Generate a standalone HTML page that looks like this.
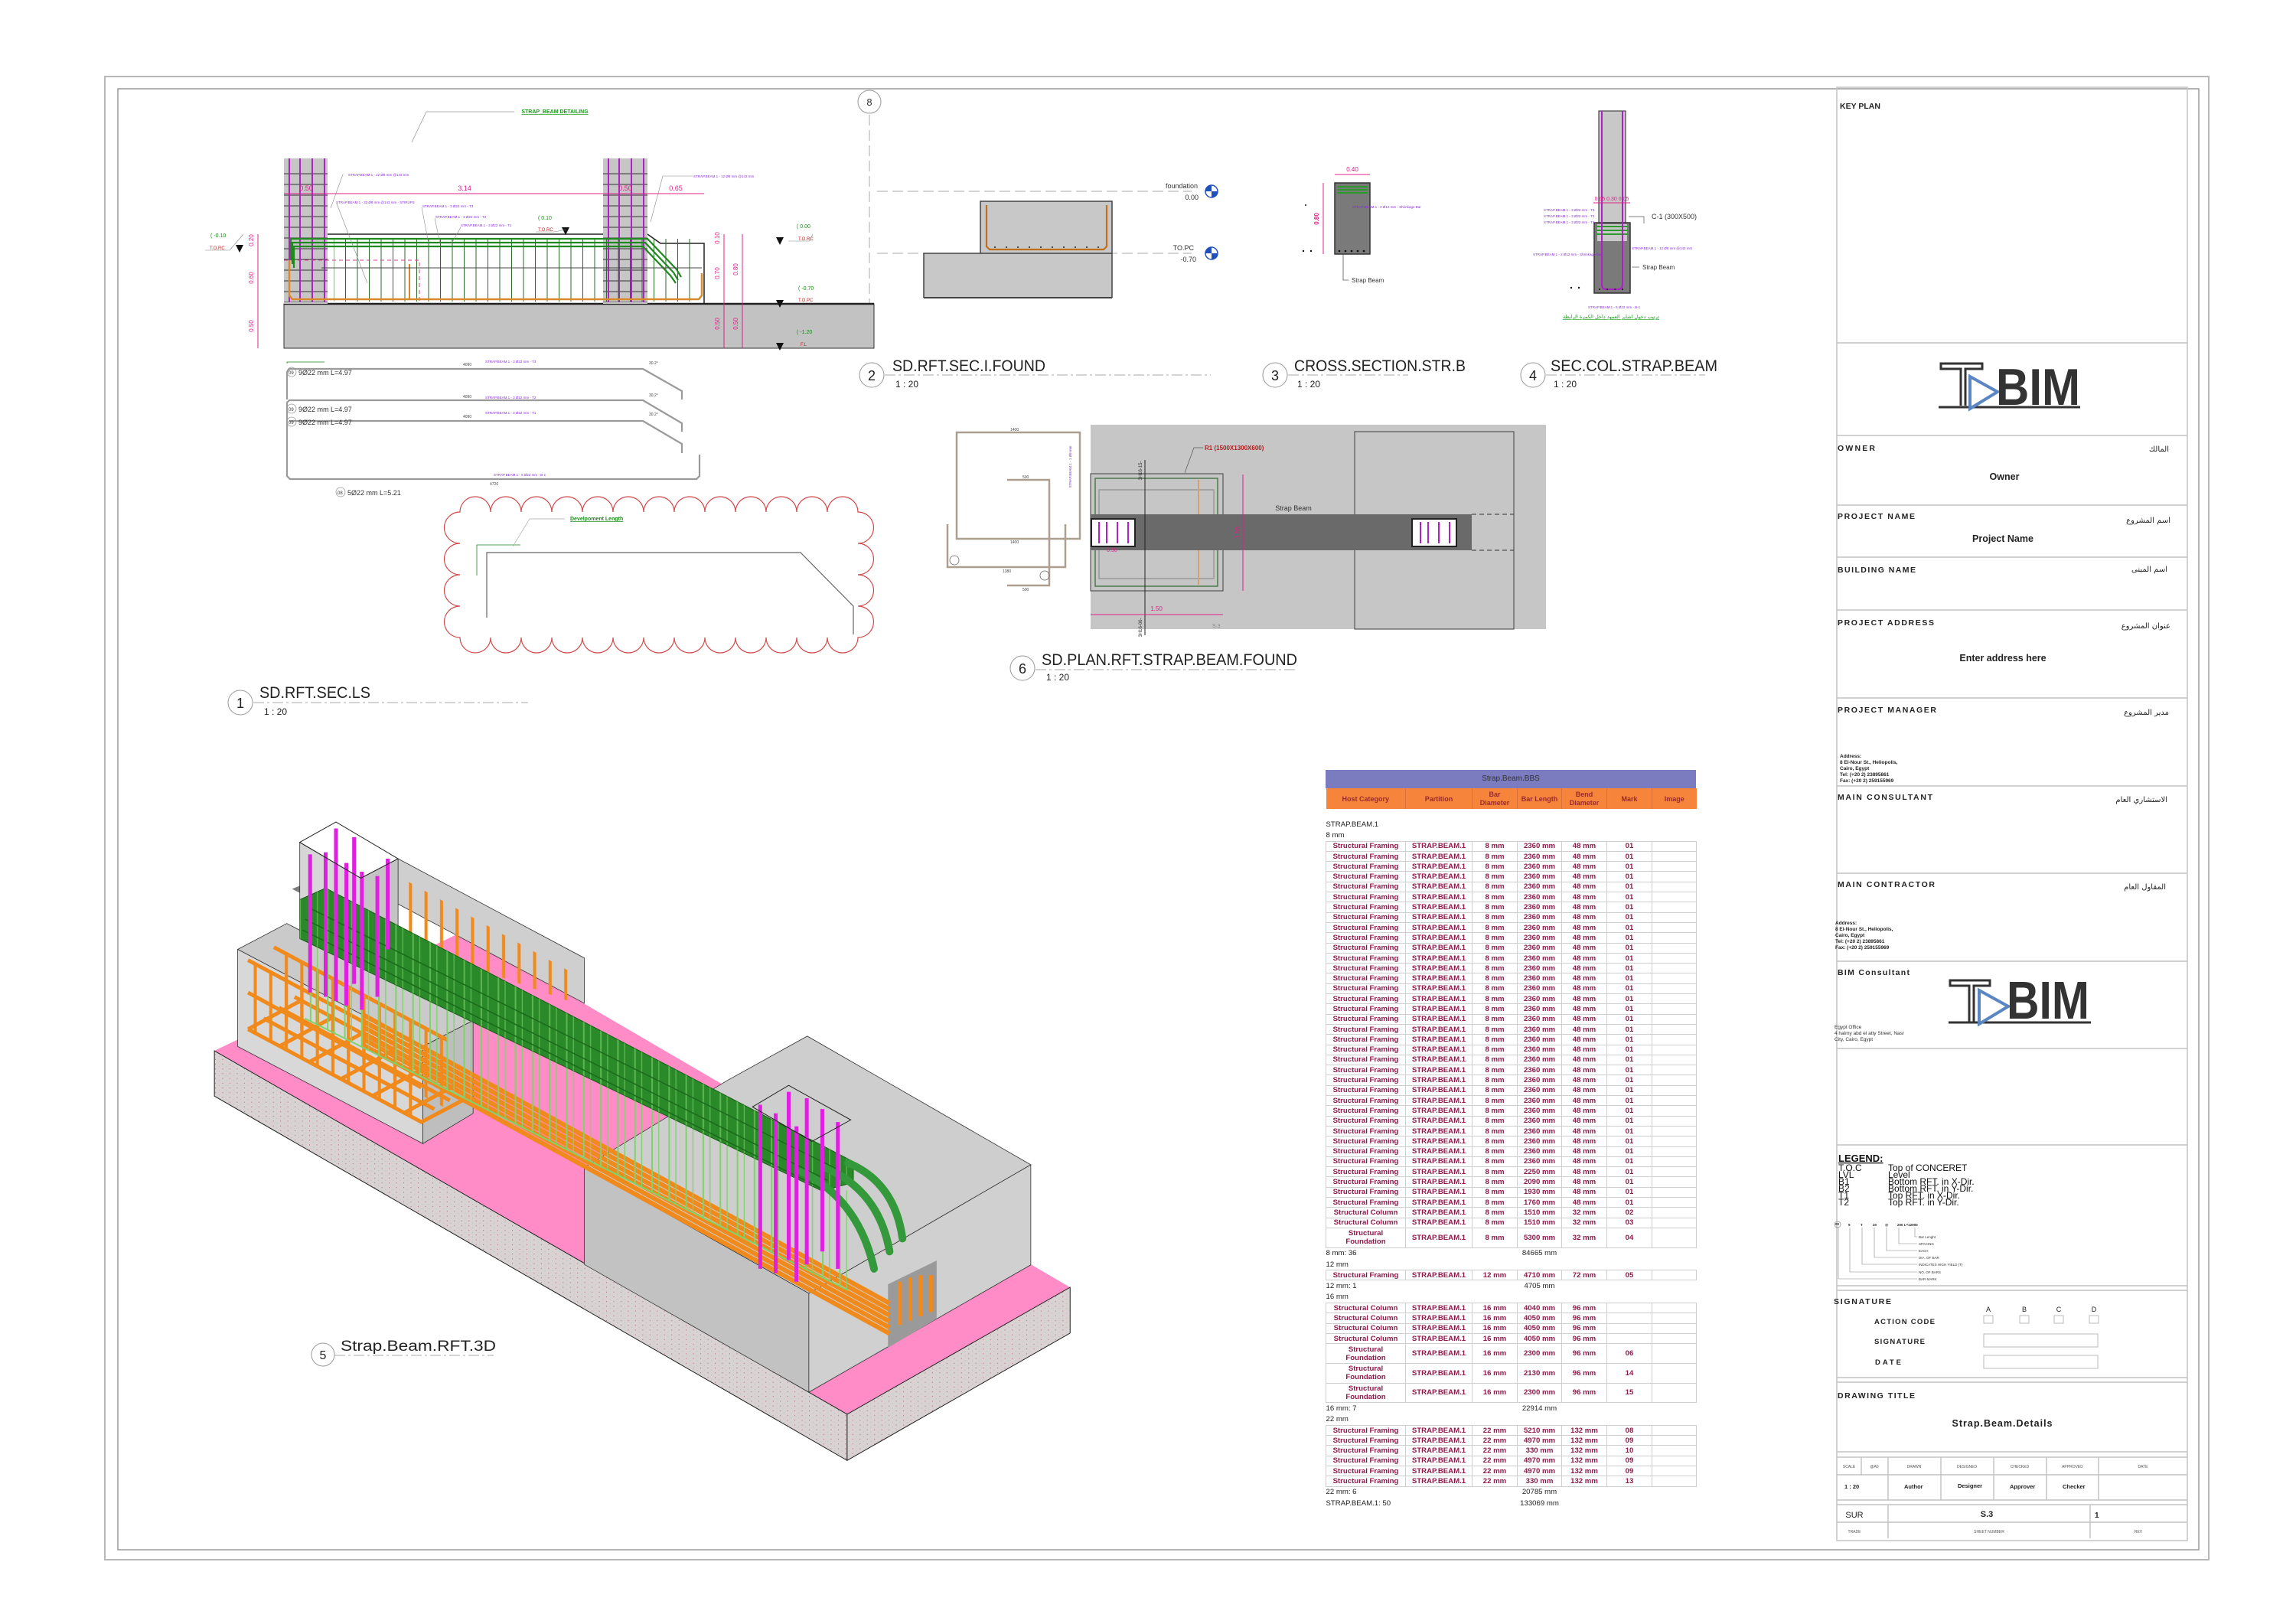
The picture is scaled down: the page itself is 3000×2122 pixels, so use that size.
<!DOCTYPE html>
<html><head><meta charset="utf-8">
<style>
html,body{margin:0;padding:0;background:#fff;}
body{width:3000px;height:2122px;position:relative;overflow:hidden;font-family:"Liberation Sans",sans-serif;}
svg{position:absolute;left:0;top:0;}
.z *{vector-effect:non-scaling-stroke;}
#bbs{position:absolute;left:1732px;top:1006px;width:484px;font-family:"Liberation Sans",sans-serif;}
#bbs table{border-collapse:collapse;table-layout:fixed;width:484px;}
#bbs td{padding:0;text-align:center;overflow:hidden;white-space:nowrap;}
#bbs tr.r td{height:12.3px;border:1px solid #cfcfcf;font-weight:bold;font-size:9.6px;color:#8c1a4a;line-height:11px;}
#bbs tr.d td{height:24.7px;border:1px solid #cfcfcf;font-weight:bold;font-size:9.6px;color:#8c1a4a;line-height:11px;}
#bbs tr.s td{height:14.3px;font-size:9.6px;color:#222;text-align:left;line-height:13px;}
#bbs tr.s td.t{text-align:center;}
</style></head>
<body>
<svg width="3000" height="2122" viewBox="0 0 3000 2122" xmlns="http://www.w3.org/2000/svg" font-family="Liberation Sans, sans-serif">
<defs>
<pattern id="stir" patternUnits="userSpaceOnUse" width="15.5" height="10"><line x1="2" y1="0" x2="2" y2="10" stroke="#2d6a2d" stroke-width="1"/></pattern>
<pattern id="ties" patternUnits="userSpaceOnUse" width="10" height="14"><line x1="0" y1="3" x2="10" y2="3" stroke="#333" stroke-width="1"/></pattern>
<pattern id="st3" patternUnits="userSpaceOnUse" width="33" height="40"><line x1="3" y1="0" x2="3" y2="40" stroke="#7fd36a" stroke-width="3"/><line x1="16" y1="0" x2="16" y2="40" stroke="#7fd36a" stroke-width="2"/></pattern>
<pattern id="or3" patternUnits="userSpaceOnUse" width="30" height="40"><line x1="4" y1="0" x2="4" y2="40" stroke="#f08a1c" stroke-width="6"/></pattern>
<pattern id="spk" patternUnits="userSpaceOnUse" width="14" height="11"><rect width="14" height="11" fill="#d8d2d3"/><circle cx="3" cy="3" r="0.8" fill="#b04060"/><circle cx="10" cy="8" r="0.7" fill="#9a9a9a"/></pattern>
</defs>

<rect x="137" y="100" width="2749" height="1938" fill="none" stroke="#b8b8b8" stroke-width="2"/>
<rect x="154" y="116" width="2719" height="1909" fill="none" stroke="#9a9a9a" stroke-width="1.5"/>
<rect x="2400" y="114" width="458" height="1899" fill="none" stroke="#c4c4c4" stroke-width="1.5"/>

<!-- SECTION 1 -->
<text x="725" y="148" font-size="7" fill="#1a9a1a" font-weight="bold" text-anchor="middle" text-decoration="underline">STRAP_BEAM DETAILING</text>
<polyline points="538,186 557,146 672,146" fill="none" stroke="#999" stroke-width="0.8"/>
<circle cx="1136" cy="133" r="15" fill="#fff" stroke="#999" stroke-width="1"/>
<text x="1136" y="138" font-size="13" text-anchor="middle" fill="#333">8</text>
<line x1="1136" y1="150" x2="1136" y2="400" stroke="#aaa" stroke-width="1" stroke-dasharray="14,6"/>

<rect x="371" y="397" width="771" height="58" fill="#c2c2c2" stroke="#333" stroke-width="1"/>
<line x1="371" y1="397" x2="1142" y2="397" stroke="#222" stroke-width="2.5"/>
<polyline points="428,306 788,306" fill="none" stroke="#222" stroke-width="1.5"/>
<polyline points="846,306 863,318 920,318 920,397" fill="none" stroke="#222" stroke-width="1.5"/>
<rect x="371" y="207" width="57" height="190" fill="#c6c6c6"/>
<rect x="788" y="207" width="58" height="190" fill="#c6c6c6"/>
<rect x="371" y="215" width="57" height="180" fill="url(#ties)"/>
<rect x="788" y="215" width="58" height="180" fill="url(#ties)"/>
<g stroke="#b020c8" stroke-width="2">
<line x1="378" y1="207" x2="378" y2="395"/><line x1="392" y1="207" x2="392" y2="395"/><line x1="408" y1="207" x2="408" y2="395"/><line x1="424" y1="207" x2="424" y2="395"/>
<line x1="795" y1="207" x2="795" y2="395"/><line x1="809" y1="207" x2="809" y2="395"/><line x1="825" y1="207" x2="825" y2="395"/><line x1="841" y1="207" x2="841" y2="395"/>
</g>
<rect x="436" y="312" width="472" height="82" fill="url(#stir)"/>
<polyline points="371,340 548,340 548,397" fill="none" stroke="#d04090" stroke-width="1" stroke-dasharray="5,4"/>
<g fill="none" stroke="#1f8a1f" stroke-width="2.2">
<polyline points="380,340 380,312 846,312 884,352 890,362"/>
<polyline points="382,345 382,317 843,317 880,356 886,366"/>
<polyline points="384,350 384,322 840,322 876,360 883,370"/>
</g>
<polyline points="378,340 378,386 382,391 913,391 917,386 917,357" fill="none" stroke="#d9892a" stroke-width="2.5"/>
<line x1="535" y1="345" x2="535" y2="390" stroke="#d9892a" stroke-width="2"/>
<line x1="420" y1="350" x2="917" y2="350" stroke="#444" stroke-width="1"/>
<line x1="371" y1="253" x2="920" y2="253" stroke="#e0208a" stroke-width="1"/>
<text x="400" y="249" font-size="9" fill="#e0208a" text-anchor="middle">0.50</text>
<text x="607" y="249" font-size="9" fill="#e0208a" text-anchor="middle">3.14</text>
<text x="817" y="249" font-size="9" fill="#e0208a" text-anchor="middle">0.50</text>
<text x="883" y="249" font-size="9" fill="#e0208a" text-anchor="middle">0.65</text>
<line x1="337" y1="306" x2="337" y2="455" stroke="#e0208a" stroke-width="1"/>
<line x1="946" y1="306" x2="946" y2="455" stroke="#e0208a" stroke-width="1"/>
<line x1="970" y1="306" x2="970" y2="455" stroke="#e0208a" stroke-width="1"/>
<g font-size="8" fill="#e0208a" text-anchor="middle">
<text transform="translate(331,314) rotate(-90)">0.20</text>
<text transform="translate(331,363) rotate(-90)">0.60</text>
<text transform="translate(331,426) rotate(-90)">0.50</text>
<text transform="translate(940,311) rotate(-90)">0.10</text>
<text transform="translate(940,357) rotate(-90)">0.70</text>
<text transform="translate(964,352) rotate(-90)">0.80</text>
<text transform="translate(940,423) rotate(-90)">0.50</text>
<text transform="translate(964,423) rotate(-90)">0.50</text>
</g>
<g font-size="7" fill="#1a8a1a">
<text x="275" y="310">( -0.10</text><text x="703" y="287">( 0.10</text><text x="1041" y="298">( 0.00</text><text x="1043" y="379">( -0.70</text><text x="1041" y="436">( -1.20</text>
</g>
<g font-size="6" fill="#d02020">
<text x="274" y="326">T.O.RC</text><text x="703" y="302">T.O.RC</text><text x="1043" y="314">T.O.RC</text><text x="1043" y="394">T.O.PC</text><text x="1046" y="452">F.L</text>
</g>
<g fill="#111">
<polygon points="308,320 318,320 313,330"/><polygon points="734,297 744,297 739,307"/><polygon points="1014,310 1024,310 1019,320"/><polygon points="1014,392 1024,392 1019,402"/><polygon points="1014,448 1024,448 1019,458"/>
</g>
<g stroke="#888" stroke-width="0.6" fill="none">
<polyline points="268,327 300,327 318,306"/><polyline points="700,303 724,303 740,300"/><polyline points="1030,315 1058,315 1062,306"/>
<polyline points="432,272 448,228"/><polyline points="850,290 866,230 905,230"/><polyline points="480,370 440,266"/><polyline points="560,318 551,271"/><polyline points="575,318 568,285"/><polyline points="590,318 602,297"/>
</g>
<g font-size="4.5" fill="#8a2be2">
<text x="455" y="230">STRAP.BEAM.1 - 12 Ø8 mm @143 mm</text>
<text x="906" y="232">STRAP.BEAM.1 - 12 Ø8 mm @143 mm</text>
<text x="439" y="266">STRAP.BEAM.1 - 33 Ø8 mm @143 mm - STIRUPS</text>
<text x="552" y="271">STRAP.BEAM.1 - 3 Ø22 mm - T3</text>
<text x="569" y="285">STRAP.BEAM.1 - 3 Ø22 mm - T2</text>
<text x="602" y="296">STRAP.BEAM.1 - 3 Ø22 mm - T1</text>
</g>
<g fill="none" stroke="#9a9a9a" stroke-width="2.2">
<polyline points="375,522 375,486 378,482 840,482 891,511 891,522"/>
<polyline points="375,594 375,526 378,523 840,523 891,553 891,564"/>
<polyline points="378,550 840,550 891,580 891,592"/>
<polyline points="375,594 375,622 379,626 910,626 914,622 914,594"/>
</g>
<polyline points="375,475 375,473 424,473" fill="none" stroke="#1a8a1a" stroke-width="0.8"/>
<g font-size="9" fill="#333">
<circle cx="381" cy="486" r="6" fill="none" stroke="#999" stroke-width="0.8"/><text x="377" y="489" font-size="6">09</text><text x="390" y="490">9Ø22 mm L=4.97</text>
<circle cx="381" cy="534" r="6" fill="none" stroke="#999" stroke-width="0.8"/><text x="377" y="537" font-size="6">09</text><text x="390" y="538">9Ø22 mm L=4.97</text>
<circle cx="381" cy="551" r="6" fill="none" stroke="#999" stroke-width="0.8"/><text x="377" y="554" font-size="6">09</text><text x="390" y="555">9Ø22 mm L=4.97</text>
<circle cx="445" cy="643" r="6" fill="none" stroke="#999" stroke-width="0.8"/><text x="441" y="646" font-size="6">08</text><text x="454" y="647">5Ø22 mm L=5.21</text>
</g>
<g font-size="4.5" fill="#8a2be2"><text x="634" y="474">STRAP.BEAM.1 - 3 Ø22 mm - T3</text><text x="634" y="521">STRAP.BEAM.1 - 3 Ø22 mm - T2</text><text x="634" y="541">STRAP.BEAM.1 - 3 Ø22 mm - T1</text><text x="645" y="622">STRAP.BEAM.1 - 5 Ø22 mm - B-1</text></g>
<g font-size="5" fill="#444"><text x="605" y="478">4090</text><text x="605" y="520">4090</text><text x="605" y="546">4090</text><text x="640" y="634">4720</text><text x="848" y="476">30.2°</text><text x="848" y="518">30.2°</text><text x="848" y="543">30.2°</text></g>

<path d="M601 669 a20 20 0 0 1 40 0 a20 20 0 0 1 40 0 a20 20 0 0 1 40 0 a20 20 0 0 1 40 0 a20 20 0 0 1 40 0 a20 20 0 0 1 40 0 a20 20 0 0 1 40 0 a20 20 0 0 1 40 0 a20 20 0 0 1 40 0 a20 20 0 0 1 40 0 a20 20 0 0 1 40 0 a20 20 0 0 1 40 0 a20 20 0 0 1 40 0 a20 20 0 0 1 0 41 a20 20 0 0 1 0 41 a20 20 0 0 1 0 41 a20 20 0 0 1 0 41 a20 20 0 0 1 -40 0 a20 20 0 0 1 -40 0 a20 20 0 0 1 -40 0 a20 20 0 0 1 -40 0 a20 20 0 0 1 -40 0 a20 20 0 0 1 -40 0 a20 20 0 0 1 -40 0 a20 20 0 0 1 -40 0 a20 20 0 0 1 -40 0 a20 20 0 0 1 -40 0 a20 20 0 0 1 -40 0 a20 20 0 0 1 -40 0 a20 20 0 0 1 -40 0 a20 20 0 0 1 0 -41 a20 20 0 0 1 0 -41 a20 20 0 0 1 0 -41 a20 20 0 0 1 0 -41 Z" fill="none" stroke="#d04848" stroke-width="1.2"/>
<polyline points="636,807 636,722 1046,722 1115,792 1115,829" fill="none" stroke="#666" stroke-width="1.2"/>
<polyline points="623,752 623,712 680,712" fill="none" stroke="#1a8a1a" stroke-width="0.8"/>
<polyline points="670,714 692,678 738,678" fill="none" stroke="#aaa" stroke-width="0.7"/>
<text x="745" y="680" font-size="7" fill="#1a8a1a" font-weight="bold" text-decoration="underline">Develpoment Length</text>

<circle cx="314" cy="918" r="16" fill="#fff" stroke="#999" stroke-width="1"/>
<text x="314" y="925" font-size="18" text-anchor="middle" fill="#222">1</text>
<text x="339" y="912" font-size="21" fill="#222" textLength="145" lengthAdjust="spacingAndGlyphs">SD.RFT.SEC.LS</text>
<text x="345" y="934" font-size="12" fill="#222">1 : 20</text>
<line x1="331" y1="918" x2="690" y2="918" stroke="#aaa" stroke-width="1" stroke-dasharray="14,4,3,4"/>

<!-- SECTION 2 -->
<line x1="1146" y1="250" x2="1557" y2="250" stroke="#aaa" stroke-width="1" stroke-dasharray="14,6"/>
<line x1="1146" y1="331" x2="1557" y2="331" stroke="#aaa" stroke-width="1" stroke-dasharray="14,6"/>
<rect x="1281" y="263" width="172" height="68" fill="#c8c8c8"/>
<rect x="1207" y="331" width="246" height="58" fill="#c8c8c8"/>
<polyline points="1281,331 1281,263 1453,263 1453,389" fill="none" stroke="#444" stroke-width="1.5"/>
<polyline points="1207,389 1207,331 1453,331" fill="none" stroke="#444" stroke-width="1.5"/>
<line x1="1207" y1="389" x2="1453" y2="389" stroke="#444" stroke-width="2"/>
<polyline points="1289,268 1289,322 1293,326 1442,326 1446,322 1446,268" fill="none" stroke="#c0701c" stroke-width="2.2"/>
<g fill="#222"><circle cx="1300" cy="323" r="1"/><circle cx="1315" cy="323" r="1"/><circle cx="1330" cy="323" r="1"/><circle cx="1345" cy="323" r="1"/><circle cx="1360" cy="323" r="1"/><circle cx="1375" cy="323" r="1"/><circle cx="1390" cy="323" r="1"/><circle cx="1405" cy="323" r="1"/><circle cx="1420" cy="323" r="1"/><circle cx="1435" cy="323" r="1"/></g>
<g font-size="9" fill="#333" text-anchor="end"><text x="1565" y="246">foundation</text><text x="1566" y="261">0.00</text><text x="1560" y="327">TO.PC</text><text x="1563" y="342">-0.70</text></g>
<g><circle cx="1583" cy="250" r="8" fill="#fff" stroke="#1f50c0" stroke-width="1.5"/><path d="M1583 250 L1575 250 A8 8 0 0 1 1583 242 Z M1583 250 L1591 250 A8 8 0 0 1 1583 258 Z" fill="#1f50c0"/>
<circle cx="1583" cy="331" r="8" fill="#fff" stroke="#1f50c0" stroke-width="1.5"/><path d="M1583 331 L1575 331 A8 8 0 0 1 1583 323 Z M1583 331 L1591 331 A8 8 0 0 1 1583 339 Z" fill="#1f50c0"/></g>
<circle cx="1139" cy="490" r="16" fill="#fff" stroke="#999" stroke-width="1"/>
<text x="1139" y="497" font-size="18" text-anchor="middle" fill="#222">2</text>
<text x="1166" y="485" font-size="21" fill="#222" textLength="200" lengthAdjust="spacingAndGlyphs">SD.RFT.SEC.I.FOUND</text>
<text x="1170" y="506" font-size="12" fill="#222">1 : 20</text>
<line x1="1156" y1="490" x2="1582" y2="490" stroke="#aaa" stroke-width="1" stroke-dasharray="14,4,3,4"/>

<!-- SECTION 3 -->
<rect x="1744" y="239" width="46" height="93" fill="#7a7a7a" stroke="#333" stroke-width="1.5"/>
<g stroke="#2a9a2a" stroke-width="2"><line x1="1747" y1="244" x2="1787" y2="244"/><line x1="1747" y1="248" x2="1787" y2="248"/><line x1="1747" y1="252" x2="1787" y2="252"/></g>
<g fill="#111"><circle cx="1750" cy="328" r="1.3"/><circle cx="1758" cy="328" r="1.3"/><circle cx="1766" cy="328" r="1.3"/><circle cx="1774" cy="328" r="1.3"/><circle cx="1782" cy="328" r="1.3"/><circle cx="1703" cy="328" r="1.2"/><circle cx="1713" cy="328" r="1.2"/><circle cx="1706" cy="268" r="1"/></g>
<line x1="1744" y1="228" x2="1790" y2="228" stroke="#e0208a" stroke-width="1"/>
<text x="1767" y="224" font-size="8" fill="#e0208a" text-anchor="middle">0.40</text>
<line x1="1729" y1="239" x2="1729" y2="332" stroke="#e0208a" stroke-width="1"/>
<text transform="translate(1723,286) rotate(-90)" font-size="8" fill="#e0208a" text-anchor="middle" font-weight="bold">0.80</text>
<text x="1767" y="272" font-size="4.5" fill="#8a2be2">STRAP.BEAM.1 - 2 Ø12 mm - Shrinkage Bar</text>
<polyline points="1755,332 1755,366 1762,366" fill="none" stroke="#555" stroke-width="0.8"/>
<text x="1766" y="369" font-size="8" fill="#333">Strap Beam</text>
<circle cx="1666" cy="490" r="16" fill="#fff" stroke="#999" stroke-width="1"/>
<text x="1666" y="497" font-size="18" text-anchor="middle" fill="#222">3</text>
<text x="1691" y="485" font-size="21" fill="#222" textLength="224" lengthAdjust="spacingAndGlyphs">CROSS.SECTION.STR.B</text>
<text x="1695" y="506" font-size="12" fill="#222">1 : 20</text>
<line x1="1683" y1="490" x2="1840" y2="490" stroke="#aaa" stroke-width="1" stroke-dasharray="14,4,3,4"/>

<!-- SECTION 4 -->
<rect x="2089" y="145" width="35" height="146" fill="#c8c8c8" stroke="#444" stroke-width="1.2"/>
<rect x="2083" y="291" width="47" height="92" fill="#7a7a7a" stroke="#333" stroke-width="1.5"/>
<rect x="2087" y="293" width="39" height="22" fill="#c8c8c8"/>
<g stroke="#2a9a2a" stroke-width="2"><line x1="2086" y1="296" x2="2127" y2="296"/><line x1="2086" y1="301" x2="2127" y2="301"/><line x1="2086" y1="306" x2="2127" y2="306"/></g>
<path d="M2093 145 V372 Q2093 378 2099 378 H2114 Q2120 378 2120 372 V145" fill="none" stroke="#b020c8" stroke-width="2"/>
<line x1="2082" y1="265" x2="2130" y2="265" stroke="#e0208a" stroke-width="1"/>
<text x="2106" y="262" font-size="7" fill="#e0208a" text-anchor="middle">0.05 0.30 0.05</text>
<polyline points="2128,283 2148,283 2148,292" fill="none" stroke="#555" stroke-width="0.7"/>
<text x="2158" y="286" font-size="9" fill="#333">C-1 (300X500)</text>
<line x1="2132" y1="349" x2="2142" y2="349" stroke="#555" stroke-width="0.7"/>
<text x="2146" y="352" font-size="8" fill="#333">Strap Beam</text>
<g font-size="4.5" fill="#8a2be2">
<text x="2017" y="276">STRAP.BEAM.1 - 3 Ø22 mm - T3</text><text x="2017" y="284">STRAP.BEAM.1 - 3 Ø22 mm - T2</text><text x="2017" y="292">STRAP.BEAM.1 - 3 Ø22 mm - T1</text>
<text x="2132" y="326">STRAP.BEAM.1 - 12 Ø8 mm @143 mm</text><text x="2003" y="334">STRAP.BEAM.1 - 2 Ø12 mm - Shrinkage Bar</text><text x="2075" y="403">STRAP.BEAM.1 - 5 Ø22 mm - B-1</text>
</g>
<g fill="#111"><circle cx="2053" cy="376" r="1.2"/><circle cx="2063" cy="376" r="1.2"/><circle cx="2090" cy="378" r="1"/><circle cx="2100" cy="378" r="1"/><circle cx="2110" cy="378" r="1"/><circle cx="2120" cy="378" r="1"/></g>
<text x="2105" y="416" font-size="6.5" fill="#1a9a1a" font-family="DejaVu Sans, sans-serif" text-decoration="underline" text-anchor="middle">ترتيب دخول اشاير العمود داخل الكمرة الرابطة</text>
<circle cx="2003" cy="490" r="16" fill="#fff" stroke="#999" stroke-width="1"/>
<text x="2003" y="497" font-size="18" text-anchor="middle" fill="#222">4</text>
<text x="2026" y="485" font-size="21" fill="#222" textLength="218" lengthAdjust="spacingAndGlyphs">SEC.COL.STRAP.BEAM</text>
<text x="2030" y="506" font-size="12" fill="#222">1 : 20</text>
<line x1="2020" y1="490" x2="2228" y2="490" stroke="#aaa" stroke-width="1" stroke-dasharray="14,4,3,4"/>

<!-- PLAN 6 -->
<rect x="1425" y="555" width="595" height="267" fill="#c6c6c6"/>
<rect x="1770" y="564" width="208" height="258" fill="none" stroke="#555" stroke-width="1.2"/>
<rect x="1425" y="619" width="173" height="153" fill="#c6c6c6" stroke="#555" stroke-width="1.2"/>
<rect x="1431" y="625" width="160" height="141" fill="none" stroke="#4a7a4a" stroke-width="1.5"/>
<rect x="1436" y="640" width="150" height="116" fill="none" stroke="#999" stroke-width="1.5"/>
<line x1="1566" y1="627" x2="1566" y2="764" stroke="#d8a070" stroke-width="2"/>
<rect x="1425" y="672" width="498" height="47" fill="#6a6a6a"/>
<line x1="1923" y1="672" x2="1978" y2="672" stroke="#333" stroke-dasharray="6,4"/>
<line x1="1923" y1="719" x2="1978" y2="719" stroke="#333" stroke-dasharray="6,4"/>
<rect x="1426" y="678" width="57" height="36" fill="#fff" stroke="#222" stroke-width="2"/>
<rect x="1845" y="678" width="58" height="36" fill="#fff" stroke="#222" stroke-width="2"/>
<g stroke="#b020c8" stroke-width="2"><line x1="1436" y1="682" x2="1436" y2="710"/><line x1="1446" y1="682" x2="1446" y2="710"/><line x1="1460" y1="682" x2="1460" y2="710"/><line x1="1474" y1="682" x2="1474" y2="710"/><line x1="1856" y1="682" x2="1856" y2="710"/><line x1="1866" y1="682" x2="1866" y2="710"/><line x1="1880" y1="682" x2="1880" y2="710"/><line x1="1894" y1="682" x2="1894" y2="710"/></g>
<line x1="1496" y1="601" x2="1496" y2="830" stroke="#222" stroke-width="1"/>
<text transform="translate(1492,615) rotate(-90)" font-size="6" fill="#333" text-anchor="middle">3H16-15-</text>
<text transform="translate(1492,820) rotate(-90)" font-size="6" fill="#333" text-anchor="middle">3H16-06-</text>
<line x1="1624" y1="620" x2="1624" y2="772" stroke="#e0208a" stroke-width="1"/>
<text transform="translate(1620,696) rotate(-90)" font-size="8" fill="#e0208a" text-anchor="middle">1.30</text>
<line x1="1425" y1="803" x2="1598" y2="803" stroke="#e0208a" stroke-width="1"/>
<text x="1511" y="798" font-size="8" fill="#e0208a" text-anchor="middle">1.50</text>
<text x="1453" y="721" font-size="7" fill="#e0208a" text-anchor="middle">0.50</text>
<text x="1690" y="667" font-size="9" fill="#333" text-anchor="middle">Strap Beam</text>
<polyline points="1548,618 1560,585 1572,585" fill="none" stroke="#555" stroke-width="0.7"/>
<text x="1574" y="588" font-size="8" fill="#b02020" font-weight="bold">R1 (1500X1300X600)</text>
<text x="1584" y="820" font-size="7" fill="#888">S.3</text>
<g fill="none" stroke="#ad9f90" stroke-width="2.5">
<rect x="1250" y="565" width="161" height="139"/>
<polyline points="1316,627 1371,627 1371,765 1316,765"/>
<polyline points="1238,685 1238,741 1392,741 1392,685"/>
</g>
<circle cx="1247" cy="732" r="6" fill="none" stroke="#666" stroke-width="0.8"/>
<circle cx="1365" cy="752" r="6" fill="none" stroke="#666" stroke-width="0.8"/>
<g font-size="5" fill="#444"><text x="1320" y="563">1400</text><text x="1320" y="710">1400</text><text x="1310" y="748">1380</text><text x="1336" y="625">500</text><text x="1336" y="772">500</text></g>
<text transform="translate(1400,610) rotate(-90)" font-size="4.5" fill="#8a2be2" text-anchor="middle">STRAP.BEAM.1 - 1 Ø8 mm</text>
<circle cx="1336" cy="873" r="16" fill="#fff" stroke="#999" stroke-width="1"/>
<text x="1336" y="880" font-size="18" text-anchor="middle" fill="#222">6</text>
<text x="1361" y="869" font-size="21" fill="#222" textLength="334" lengthAdjust="spacingAndGlyphs">SD.PLAN.RFT.STRAP.BEAM.FOUND</text>
<text x="1367" y="889" font-size="12" fill="#222">1 : 20</text>
<line x1="1353" y1="875" x2="1695" y2="875" stroke="#aaa" stroke-width="1" stroke-dasharray="14,4,3,4"/>

<!-- 3D VIEW -->
<g class="z" transform="translate(270,1060) scale(0.676,0.564)">
<polygon points="15,555 1238,1397 1669,1103 493,280" fill="#ff8cc6"/>
<polygon points="15,555 1238,1397 1238,1504 15,660" fill="url(#spk)" stroke="#222" stroke-width="1"/>
<polygon points="1238,1397 1669,1103 1669,1209 1238,1504" fill="url(#spk)" stroke="#222" stroke-width="1"/>
<polygon points="370,110 730,340 730,445 370,215" fill="#cfcfcf" stroke="#333" stroke-width="0.8"/>
<polygon points="165,180 190,168 1250,830 1230,845" fill="#7d7d7d"/>
<polygon points="180,72 298,155 298,330 180,250" fill="#d6d6d6" stroke="#333" stroke-width="0.8"/>
<polygon points="298,155 370,110 370,290 298,330" fill="#c4c4c4" stroke="#333" stroke-width="0.8"/>
<polygon points="60,320 155,260 515,485 418,545" fill="#cacaca" stroke="#333" stroke-width="0.8"/>
<polygon points="60,320 418,545 418,770 60,545" fill="#d8d8d8" stroke="#333" stroke-width="0.8"/>
<polygon points="418,545 515,485 515,700 418,770" fill="#bebebe" stroke="#333" stroke-width="0.8"/>
<!-- right footing -->
<polygon points="730,825 1006,624 1161,521 1593,819 1164,1117" fill="#cecece" stroke="#333" stroke-width="0.8"/>
<polygon points="730,825 1164,1117 1164,1346 730,1050" fill="#c2c2c2" stroke="#333" stroke-width="0.8"/>
<polygon points="1164,1117 1593,819 1593,1051 1164,1346" fill="#d0d0d0" stroke="#333" stroke-width="0.8"/>
<polygon points="1317,1096 1411,1041 1411,1176 1317,1243" fill="#9a9a9a"/>
<!-- orange left cage -->
<polygon points="80,345 415,560 415,720 80,505" fill="url(#or3)"/>
<polygon points="130,315 465,530 465,690 130,475" fill="url(#or3)"/>
<polygon points="370,150 700,370 700,440 370,300" fill="url(#or3)"/>
<g fill="none" stroke="#f08a1c" stroke-width="5">
<polyline points="80,505 415,720 510,660"/><polyline points="110,480 440,690"/><polyline points="140,455 470,670"/><polyline points="170,430 500,645"/>
<polyline points="80,345 415,560"/><polyline points="80,420 415,640"/><polyline points="130,315 465,530"/>
<line x1="80" y1="505" x2="180" y2="440"/><line x1="140" y1="545" x2="240" y2="480"/><line x1="200" y1="580" x2="300" y2="515"/><line x1="260" y1="620" x2="360" y2="555"/><line x1="320" y1="660" x2="420" y2="595"/><line x1="380" y1="700" x2="480" y2="635"/>
</g>
<g fill="none" stroke="#f08a1c" stroke-width="6">
<line x1="300" y1="470" x2="1320" y2="1140"/><line x1="300" y1="484" x2="1320" y2="1154"/><line x1="300" y1="498" x2="1320" y2="1168"/><line x1="300" y1="512" x2="1320" y2="1182"/><line x1="300" y1="526" x2="1320" y2="1196"/><line x1="300" y1="540" x2="1320" y2="1210"/>
</g>
<g fill="none" stroke="#f08a1c" stroke-width="5"><path d="M1340 1190 V1090"/><path d="M1360 1180 V1080"/><path d="M1380 1170 V1075"/><path d="M1400 1160 V1075"/></g>
<polygon points="190,250 1240,880 1240,1110 190,480" fill="url(#st3)"/>
<line x1="190" y1="480" x2="1240" y2="1110" stroke="#7fd36a" stroke-width="2"/>
<polygon points="180,205 230,178 1250,812 1250,860 1190,880 180,295" fill="#2a8a2a" stroke="#165c16" stroke-width="1"/>
<polygon points="180,205 230,178 1250,812 1250,860 1190,880 180,295" fill="url(#st3)" opacity="0.6"/>
<g fill="none" stroke="#33993a" stroke-width="10" stroke-linecap="round">
<path d="M1150 835 Q1260 900 1290 1060"/><path d="M1195 825 Q1300 880 1320 1020"/><path d="M1240 815 Q1330 860 1345 990"/>
</g>
<g stroke="#1a6a1a" stroke-width="1.5"><line x1="200" y1="225" x2="1220" y2="830"/><line x1="190" y1="250" x2="1200" y2="855"/><line x1="185" y1="275" x2="1190" y2="875"/></g>
<g stroke="#e020e0" stroke-width="5">
<line x1="200" y1="100" x2="200" y2="420"/><line x1="230" y1="95" x2="230" y2="430"/><line x1="250" y1="40" x2="250" y2="440"/><line x1="270" y1="120" x2="270" y2="450"/><line x1="285" y1="60" x2="285" y2="400"/><line x1="300" y1="140" x2="300" y2="460"/><line x1="330" y1="150" x2="330" y2="430"/><line x1="350" y1="110" x2="350" y2="320"/>
<line x1="1070" y1="680" x2="1070" y2="1060"/><line x1="1100" y1="700" x2="1100" y2="1070"/><line x1="1125" y1="650" x2="1125" y2="1040"/><line x1="1140" y1="730" x2="1140" y2="1090"/><line x1="1160" y1="665" x2="1160" y2="1050"/><line x1="1190" y1="690" x2="1190" y2="1020"/><line x1="1220" y1="720" x2="1220" y2="1060"/>
</g>
<polygon points="180,72 250,25 370,110 298,155" fill="none" stroke="#222" stroke-width="1"/>
<polygon points="1055,685 1125,635 1245,715 1170,765" fill="none" stroke="#222" stroke-width="1"/>
</g>
<circle cx="422" cy="1770" r="15" fill="#fff" stroke="#999" stroke-width="1"/>
<text x="422" y="1776" font-size="16" text-anchor="middle" fill="#222">5</text>
<text x="445" y="1765" font-size="19" fill="#222" textLength="203" lengthAdjust="spacingAndGlyphs">Strap.Beam.RFT.3D</text>
<line x1="437" y1="1771" x2="645" y2="1771" stroke="#aaa" stroke-width="1" stroke-dasharray="14,4,3,4"/>

<!-- TITLE BLOCK -->
<g stroke="#c4c4c4" stroke-width="1.5">
<line x1="2400" y1="448" x2="2858" y2="448"/><line x1="2400" y1="569" x2="2858" y2="569"/><line x1="2400" y1="660" x2="2858" y2="660"/><line x1="2400" y1="728" x2="2858" y2="728"/><line x1="2400" y1="797" x2="2858" y2="797"/><line x1="2400" y1="912" x2="2858" y2="912"/><line x1="2400" y1="1027" x2="2858" y2="1027"/><line x1="2400" y1="1141" x2="2858" y2="1141"/><line x1="2400" y1="1256" x2="2858" y2="1256"/><line x1="2400" y1="1370" x2="2858" y2="1370"/><line x1="2400" y1="1496" x2="2858" y2="1496"/><line x1="2400" y1="1680" x2="2858" y2="1680"/><line x1="2400" y1="1686" x2="2858" y2="1686"/><line x1="2400" y1="1800" x2="2858" y2="1800"/><line x1="2400" y1="1806" x2="2858" y2="1806"/><line x1="2400" y1="1897" x2="2858" y2="1897"/><line x1="2400" y1="1904" x2="2858" y2="1904"/><line x1="2400" y1="1927" x2="2858" y2="1927"/><line x1="2400" y1="1960" x2="2858" y2="1960"/><line x1="2400" y1="1966" x2="2858" y2="1966"/><line x1="2400" y1="1989" x2="2858" y2="1989"/>
<line x1="2432" y1="1904" x2="2432" y2="1927"/><line x1="2467" y1="1904" x2="2467" y2="1960"/><line x1="2536" y1="1904" x2="2536" y2="1960"/><line x1="2605" y1="1904" x2="2605" y2="1960"/><line x1="2674" y1="1904" x2="2674" y2="1960"/><line x1="2742" y1="1904" x2="2742" y2="1960"/>
<line x1="2467" y1="1966" x2="2467" y2="2010"/><line x1="2731" y1="1966" x2="2731" y2="2010"/>
</g>
<g font-size="10.5" font-weight="bold" fill="#222">
<text x="2404" y="142">KEY PLAN</text>
<text x="2401" y="589" textLength="49">OWNER</text>
<text x="2401" y="678" textLength="101">PROJECT NAME</text>
<text x="2401" y="748" textLength="102">BUILDING NAME</text>
<text x="2401" y="817" textLength="126">PROJECT ADDRESS</text>
<text x="2401" y="931" textLength="129">PROJECT MANAGER</text>
<text x="2401" y="1045" textLength="124">MAIN CONSULTANT</text>
<text x="2401" y="1159" textLength="127">MAIN CONTRACTOR</text>
<text x="2401" y="1274" textLength="94">BIM Consultant</text>
<text x="2396" y="1704" textLength="75">SIGNATURE</text>
<text x="2449" y="1730" textLength="79" font-size="9.5">ACTION CODE</text>
<text x="2449" y="1756" textLength="66" font-size="9.5">SIGNATURE</text>
<text x="2450" y="1783" textLength="34" font-size="9.5">DATE</text>
<text x="2401" y="1827" textLength="101">DRAWING TITLE</text>
</g>
<g font-size="12.5" font-weight="bold" fill="#222" text-anchor="middle">
<text x="2619" y="627">Owner</text>
<text x="2617" y="708">Project Name</text>
<text x="2617" y="864">Enter address here</text>
<text x="2616" y="1864" textLength="131">Strap.Beam.Details</text>
</g>
<g font-size="10" fill="#222" font-family="DejaVu Sans, sans-serif" text-anchor="end">
<text x="2834" y="590">المالك</text><text x="2836" y="683">اسم المشروع</text><text x="2832" y="747">اسم المبنى</text><text x="2836" y="821">عنوان المشروع</text><text x="2834" y="934">مدير المشروع</text><text x="2832" y="1048">الاستشاري العام</text><text x="2830" y="1162">المقاول العام</text>
</g>
<g font-size="6.5" font-weight="bold" fill="#222">
<text x="2404" y="990">Address:</text><text x="2404" y="998">8 El-Nour St., Heliopolis,</text><text x="2404" y="1006">Cairo, Egypt</text><text x="2404" y="1014">Tel: (+20 2) 23895861</text><text x="2404" y="1022">Fax: (+20 2) 259155969</text>
<text x="2398" y="1208">Address:</text><text x="2398" y="1216">8 El-Nour St., Heliopolis,</text><text x="2398" y="1224">Cairo, Egypt</text><text x="2398" y="1232">Tel: (+20 2) 23895861</text><text x="2398" y="1240">Fax: (+20 2) 259155969</text>
</g>
<g font-size="6.5" fill="#333"><text x="2397" y="1344">Egypt Office</text><text x="2397" y="1352">4 halmy abd el atty Street, Nasr</text><text x="2397" y="1360">City, Cairo, Egypt</text></g>
<g fill="none" stroke="#333" stroke-width="3">
<polyline points="2562,530 2562,482 2536,482 2536,475 2590,475 2590,482 2568,482 2568,530"/>
<line x1="2533" y1="532" x2="2718" y2="532"/>
<polyline points="2573,1335 2573,1288 2548,1288 2548,1281 2600,1281 2600,1288 2579,1288 2579,1335"/>
<line x1="2546" y1="1336" x2="2732" y2="1336"/>
</g>
<polygon points="2574,492 2574,534 2610,512" fill="none" stroke="#5a86c4" stroke-width="4"/>
<polygon points="2586,1294 2586,1338 2624,1315" fill="none" stroke="#5a86c4" stroke-width="4"/>
<text x="2608" y="529" font-size="68" font-weight="bold" fill="#333" textLength="110" lengthAdjust="spacingAndGlyphs">BIM</text>
<text x="2622" y="1331" font-size="70" font-weight="bold" fill="#333" textLength="108" lengthAdjust="spacingAndGlyphs">BIM</text>
<text x="2402" y="1518" font-size="13" font-weight="bold" fill="#111" text-decoration="underline">LEGEND:</text>
<g font-size="12" fill="#111">
<text x="2402" y="1530">T.O.C</text><text x="2467" y="1530">Top of CONCERET</text>
<text x="2402" y="1539">LVL</text><text x="2467" y="1539">Level</text>
<text x="2402" y="1548">B1</text><text x="2467" y="1548">Bottom RFT. in X-Dir.</text>
<text x="2402" y="1557">B2</text><text x="2467" y="1557">Bottom RFT. in Y-Dir.</text>
<text x="2402" y="1566">T1</text><text x="2467" y="1566">Top RFT. in X-Dir.</text>
<text x="2402" y="1575">T2</text><text x="2467" y="1575">Top RFT. in Y-Dir.</text>
</g>
<circle cx="2401" cy="1600" r="4" fill="none" stroke="#888" stroke-width="0.7"/>
<g font-size="4.5" fill="#222" font-weight="bold"><text x="2398" y="1601">00</text><text x="2415" y="1602">9</text><text x="2431" y="1602">T</text><text x="2447" y="1602">20</text><text x="2463" y="1602">@</text><text x="2479" y="1602">200 L=12000</text></g>
<g fill="none" stroke="#888" stroke-width="0.6">
<polyline points="2402,1604 2402,1671 2505,1671"/><polyline points="2417,1604 2417,1662 2505,1662"/><polyline points="2433,1604 2433,1652 2505,1652"/><polyline points="2449,1604 2449,1643 2505,1643"/><polyline points="2465,1604 2465,1634 2505,1634"/><polyline points="2481,1604 2481,1625 2505,1625"/><polyline points="2502,1604 2502,1616 2505,1616"/>
</g>
<g font-size="4.5" fill="#333"><text x="2507" y="1618">Bar Lenght</text><text x="2507" y="1627">SPACING</text><text x="2507" y="1636">EACH</text><text x="2507" y="1645">DIA. OF BAR</text><text x="2507" y="1654">INDICATES HIGH YIELD (T)</text><text x="2507" y="1664">NO. OF BARS</text><text x="2507" y="1673">BAR MARK</text></g>
<g font-size="9" fill="#222" text-anchor="middle"><text x="2598" y="1714">A</text><text x="2645" y="1714">B</text><text x="2690" y="1714">C</text><text x="2736" y="1714">D</text></g>
<g fill="none" stroke="#bbb" stroke-width="1"><rect x="2592" y="1719" width="12" height="10"/><rect x="2639" y="1719" width="12" height="10"/><rect x="2684" y="1719" width="12" height="10"/><rect x="2730" y="1719" width="12" height="10"/><rect x="2592" y="1743" width="149" height="17"/><rect x="2592" y="1771" width="149" height="17"/></g>
<g font-size="5" fill="#555" text-anchor="middle"><text x="2416" y="1918">SCALE</text><text x="2449" y="1918">@A0</text><text x="2501" y="1918">DRAWN</text><text x="2570" y="1918">DESIGNED</text><text x="2639" y="1918">CHECKED</text><text x="2708" y="1918">APPROVED</text><text x="2800" y="1918">DATE</text>
<text x="2423" y="2003">TRADE</text><text x="2599" y="2003">SHEET NUMBER</text><text x="2794" y="2003">REV</text></g>
<g font-size="7.5" font-weight="bold" fill="#222"><text x="2410" y="1945">1 : 20</text><text x="2488" y="1945">Author</text><text x="2558" y="1944">Designer</text><text x="2626" y="1945">Approver</text><text x="2695" y="1945">Checker</text></g>
<text x="2423" y="1983" font-size="11" fill="#222" text-anchor="middle">SUR</text>
<text x="2596" y="1982" font-size="11" font-weight="bold" fill="#222" text-anchor="middle">S.3</text>
<text x="2737" y="1983" font-size="10" font-weight="bold" fill="#222">1</text>
</svg>

<div id="bbs">
<div style="height:24px;background:#7b7bc0;color:#333;font-size:10px;text-align:center;line-height:24px;">Strap.Beam.BBS</div>
<table>
<colgroup><col style="width:104px"><col style="width:87px"><col style="width:59px"><col style="width:58px"><col style="width:59px"><col style="width:59px"><col style="width:58px"></colgroup>
<tr style="background:#f6843a;"><td style="height:27px;font-weight:bold;font-size:9px;color:#9a2a30;line-height:10px;border-right:1px solid #d8703a">Host Category</td><td style="font-weight:bold;font-size:9px;color:#9a2a30;border-right:1px solid #d8703a">Partition</td><td style="font-weight:bold;font-size:9px;color:#9a2a30;line-height:11px;border-right:1px solid #d8703a">Bar<br>Diameter</td><td style="font-weight:bold;font-size:9px;color:#9a2a30;border-right:1px solid #d8703a">Bar Length</td><td style="font-weight:bold;font-size:9px;color:#9a2a30;line-height:11px;border-right:1px solid #d8703a">Bend<br>Diameter</td><td style="font-weight:bold;font-size:9px;color:#9a2a30;border-right:1px solid #d8703a">Mark</td><td style="font-weight:bold;font-size:9px;color:#9a2a30">Image</td></tr>
<tr><td colspan="7" style="height:13px"></td></tr>
<tr class="s"><td colspan="7">STRAP.BEAM.1</td></tr>
<tr class="s"><td colspan="7">8 mm</td></tr>
<tr class="r"><td>Structural Framing</td><td>STRAP.BEAM.1</td><td>8 mm</td><td>2360 mm</td><td>48 mm</td><td>01</td><td></td></tr>
<tr class="r"><td>Structural Framing</td><td>STRAP.BEAM.1</td><td>8 mm</td><td>2360 mm</td><td>48 mm</td><td>01</td><td></td></tr>
<tr class="r"><td>Structural Framing</td><td>STRAP.BEAM.1</td><td>8 mm</td><td>2360 mm</td><td>48 mm</td><td>01</td><td></td></tr>
<tr class="r"><td>Structural Framing</td><td>STRAP.BEAM.1</td><td>8 mm</td><td>2360 mm</td><td>48 mm</td><td>01</td><td></td></tr>
<tr class="r"><td>Structural Framing</td><td>STRAP.BEAM.1</td><td>8 mm</td><td>2360 mm</td><td>48 mm</td><td>01</td><td></td></tr>
<tr class="r"><td>Structural Framing</td><td>STRAP.BEAM.1</td><td>8 mm</td><td>2360 mm</td><td>48 mm</td><td>01</td><td></td></tr>
<tr class="r"><td>Structural Framing</td><td>STRAP.BEAM.1</td><td>8 mm</td><td>2360 mm</td><td>48 mm</td><td>01</td><td></td></tr>
<tr class="r"><td>Structural Framing</td><td>STRAP.BEAM.1</td><td>8 mm</td><td>2360 mm</td><td>48 mm</td><td>01</td><td></td></tr>
<tr class="r"><td>Structural Framing</td><td>STRAP.BEAM.1</td><td>8 mm</td><td>2360 mm</td><td>48 mm</td><td>01</td><td></td></tr>
<tr class="r"><td>Structural Framing</td><td>STRAP.BEAM.1</td><td>8 mm</td><td>2360 mm</td><td>48 mm</td><td>01</td><td></td></tr>
<tr class="r"><td>Structural Framing</td><td>STRAP.BEAM.1</td><td>8 mm</td><td>2360 mm</td><td>48 mm</td><td>01</td><td></td></tr>
<tr class="r"><td>Structural Framing</td><td>STRAP.BEAM.1</td><td>8 mm</td><td>2360 mm</td><td>48 mm</td><td>01</td><td></td></tr>
<tr class="r"><td>Structural Framing</td><td>STRAP.BEAM.1</td><td>8 mm</td><td>2360 mm</td><td>48 mm</td><td>01</td><td></td></tr>
<tr class="r"><td>Structural Framing</td><td>STRAP.BEAM.1</td><td>8 mm</td><td>2360 mm</td><td>48 mm</td><td>01</td><td></td></tr>
<tr class="r"><td>Structural Framing</td><td>STRAP.BEAM.1</td><td>8 mm</td><td>2360 mm</td><td>48 mm</td><td>01</td><td></td></tr>
<tr class="r"><td>Structural Framing</td><td>STRAP.BEAM.1</td><td>8 mm</td><td>2360 mm</td><td>48 mm</td><td>01</td><td></td></tr>
<tr class="r"><td>Structural Framing</td><td>STRAP.BEAM.1</td><td>8 mm</td><td>2360 mm</td><td>48 mm</td><td>01</td><td></td></tr>
<tr class="r"><td>Structural Framing</td><td>STRAP.BEAM.1</td><td>8 mm</td><td>2360 mm</td><td>48 mm</td><td>01</td><td></td></tr>
<tr class="r"><td>Structural Framing</td><td>STRAP.BEAM.1</td><td>8 mm</td><td>2360 mm</td><td>48 mm</td><td>01</td><td></td></tr>
<tr class="r"><td>Structural Framing</td><td>STRAP.BEAM.1</td><td>8 mm</td><td>2360 mm</td><td>48 mm</td><td>01</td><td></td></tr>
<tr class="r"><td>Structural Framing</td><td>STRAP.BEAM.1</td><td>8 mm</td><td>2360 mm</td><td>48 mm</td><td>01</td><td></td></tr>
<tr class="r"><td>Structural Framing</td><td>STRAP.BEAM.1</td><td>8 mm</td><td>2360 mm</td><td>48 mm</td><td>01</td><td></td></tr>
<tr class="r"><td>Structural Framing</td><td>STRAP.BEAM.1</td><td>8 mm</td><td>2360 mm</td><td>48 mm</td><td>01</td><td></td></tr>
<tr class="r"><td>Structural Framing</td><td>STRAP.BEAM.1</td><td>8 mm</td><td>2360 mm</td><td>48 mm</td><td>01</td><td></td></tr>
<tr class="r"><td>Structural Framing</td><td>STRAP.BEAM.1</td><td>8 mm</td><td>2360 mm</td><td>48 mm</td><td>01</td><td></td></tr>
<tr class="r"><td>Structural Framing</td><td>STRAP.BEAM.1</td><td>8 mm</td><td>2360 mm</td><td>48 mm</td><td>01</td><td></td></tr>
<tr class="r"><td>Structural Framing</td><td>STRAP.BEAM.1</td><td>8 mm</td><td>2360 mm</td><td>48 mm</td><td>01</td><td></td></tr>
<tr class="r"><td>Structural Framing</td><td>STRAP.BEAM.1</td><td>8 mm</td><td>2360 mm</td><td>48 mm</td><td>01</td><td></td></tr>
<tr class="r"><td>Structural Framing</td><td>STRAP.BEAM.1</td><td>8 mm</td><td>2360 mm</td><td>48 mm</td><td>01</td><td></td></tr>
<tr class="r"><td>Structural Framing</td><td>STRAP.BEAM.1</td><td>8 mm</td><td>2360 mm</td><td>48 mm</td><td>01</td><td></td></tr>
<tr class="r"><td>Structural Framing</td><td>STRAP.BEAM.1</td><td>8 mm</td><td>2360 mm</td><td>48 mm</td><td>01</td><td></td></tr>
<tr class="r"><td>Structural Framing</td><td>STRAP.BEAM.1</td><td>8 mm</td><td>2360 mm</td><td>48 mm</td><td>01</td><td></td></tr>
<tr class="r"><td>Structural Framing</td><td>STRAP.BEAM.1</td><td>8 mm</td><td>2250 mm</td><td>48 mm</td><td>01</td><td></td></tr>
<tr class="r"><td>Structural Framing</td><td>STRAP.BEAM.1</td><td>8 mm</td><td>2090 mm</td><td>48 mm</td><td>01</td><td></td></tr>
<tr class="r"><td>Structural Framing</td><td>STRAP.BEAM.1</td><td>8 mm</td><td>1930 mm</td><td>48 mm</td><td>01</td><td></td></tr>
<tr class="r"><td>Structural Framing</td><td>STRAP.BEAM.1</td><td>8 mm</td><td>1760 mm</td><td>48 mm</td><td>01</td><td></td></tr>
<tr class="r"><td>Structural Column</td><td>STRAP.BEAM.1</td><td>8 mm</td><td>1510 mm</td><td>32 mm</td><td>02</td><td></td></tr>
<tr class="r"><td>Structural Column</td><td>STRAP.BEAM.1</td><td>8 mm</td><td>1510 mm</td><td>32 mm</td><td>03</td><td></td></tr>
<tr class="d"><td>Structural<br>Foundation</td><td>STRAP.BEAM.1</td><td>8 mm</td><td>5300 mm</td><td>32 mm</td><td>04</td><td></td></tr>
<tr class="s"><td colspan="3">8 mm: 36</td><td class="t">84665 mm</td><td colspan="3"></td></tr>
<tr class="s"><td colspan="7">12 mm</td></tr>
<tr class="r"><td>Structural Framing</td><td>STRAP.BEAM.1</td><td>12 mm</td><td>4710 mm</td><td>72 mm</td><td>05</td><td></td></tr>
<tr class="s"><td colspan="3">12 mm: 1</td><td class="t">4705 mm</td><td colspan="3"></td></tr>
<tr class="s"><td colspan="7">16 mm</td></tr>
<tr class="r"><td>Structural Column</td><td>STRAP.BEAM.1</td><td>16 mm</td><td>4040 mm</td><td>96 mm</td><td></td><td></td></tr>
<tr class="r"><td>Structural Column</td><td>STRAP.BEAM.1</td><td>16 mm</td><td>4050 mm</td><td>96 mm</td><td></td><td></td></tr>
<tr class="r"><td>Structural Column</td><td>STRAP.BEAM.1</td><td>16 mm</td><td>4050 mm</td><td>96 mm</td><td></td><td></td></tr>
<tr class="r"><td>Structural Column</td><td>STRAP.BEAM.1</td><td>16 mm</td><td>4050 mm</td><td>96 mm</td><td></td><td></td></tr>
<tr class="d"><td>Structural<br>Foundation</td><td>STRAP.BEAM.1</td><td>16 mm</td><td>2300 mm</td><td>96 mm</td><td>06</td><td></td></tr>
<tr class="d"><td>Structural<br>Foundation</td><td>STRAP.BEAM.1</td><td>16 mm</td><td>2130 mm</td><td>96 mm</td><td>14</td><td></td></tr>
<tr class="d"><td>Structural<br>Foundation</td><td>STRAP.BEAM.1</td><td>16 mm</td><td>2300 mm</td><td>96 mm</td><td>15</td><td></td></tr>
<tr class="s"><td colspan="3">16 mm: 7</td><td class="t">22914 mm</td><td colspan="3"></td></tr>
<tr class="s"><td colspan="7">22 mm</td></tr>
<tr class="r"><td>Structural Framing</td><td>STRAP.BEAM.1</td><td>22 mm</td><td>5210 mm</td><td>132 mm</td><td>08</td><td></td></tr>
<tr class="r"><td>Structural Framing</td><td>STRAP.BEAM.1</td><td>22 mm</td><td>4970 mm</td><td>132 mm</td><td>09</td><td></td></tr>
<tr class="r"><td>Structural Framing</td><td>STRAP.BEAM.1</td><td>22 mm</td><td>330 mm</td><td>132 mm</td><td>10</td><td></td></tr>
<tr class="r"><td>Structural Framing</td><td>STRAP.BEAM.1</td><td>22 mm</td><td>4970 mm</td><td>132 mm</td><td>09</td><td></td></tr>
<tr class="r"><td>Structural Framing</td><td>STRAP.BEAM.1</td><td>22 mm</td><td>4970 mm</td><td>132 mm</td><td>09</td><td></td></tr>
<tr class="r"><td>Structural Framing</td><td>STRAP.BEAM.1</td><td>22 mm</td><td>330 mm</td><td>132 mm</td><td>13</td><td></td></tr>
<tr class="s"><td colspan="3">22 mm: 6</td><td class="t">20785 mm</td><td colspan="3"></td></tr>
<tr class="s"><td colspan="3">STRAP.BEAM.1: 50</td><td class="t">133069 mm</td><td colspan="3"></td></tr>
</table>
</div>
</body></html>
